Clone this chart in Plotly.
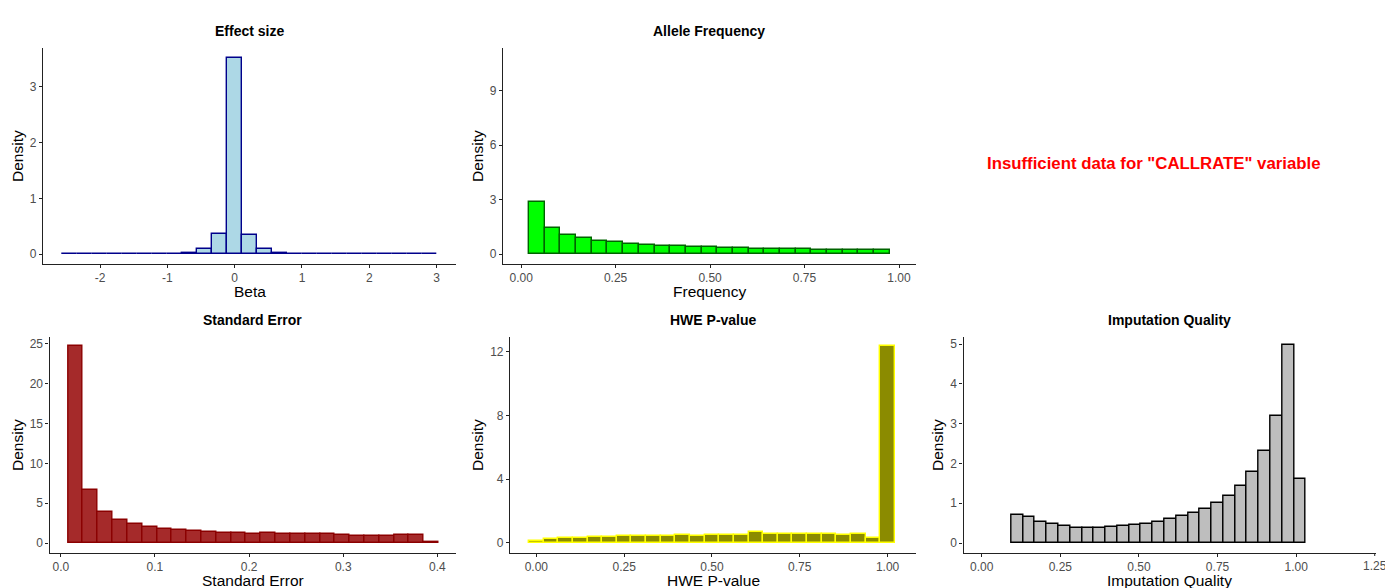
import plotly.graph_objects as go

W, H = 1385, 588

# ---------------- data ----------------
# Effect size (Beta): 25 bins
beta_start = -2.57
beta_width = 0.2233
beta_density = [0.002, 0.002, 0.002, 0.002, 0.002, 0.002, 0.003, 0.006, 0.025, 0.09,
                0.37, 3.52, 0.35, 0.09, 0.025, 0.006, 0.003, 0.002, 0.002, 0.002,
                0.002, 0.002, 0.002, 0.002, 0.002]

# Allele frequency: 23 bins
af_start = 0.021
af_width = 0.0415
af_density = [2.85, 1.43, 1.06, 0.88, 0.73, 0.66, 0.55, 0.51, 0.46, 0.42, 0.40, 0.37,
              0.35, 0.31, 0.29, 0.29, 0.27, 0.26, 0.24, 0.22, 0.20, 0.20, 0.20]

# Standard error: 25 bins
se_start = 0.0078
se_width = 0.01574
se_density = [24.75, 6.65, 3.9, 2.9, 2.38, 2.0, 1.75, 1.6, 1.46, 1.38, 1.3, 1.25, 1.2,
              1.25, 1.15, 1.1, 1.15, 1.1, 1.0, 0.95, 0.95, 0.95, 1.0, 1.0, 0.2]

# HWE p-value: 25 bins
hwe_start = -0.0208
hwe_width = 0.04167
hwe_density = [0.13, 0.27, 0.31, 0.33, 0.40, 0.40, 0.44, 0.44, 0.44, 0.46, 0.52, 0.46,
               0.52, 0.48, 0.52, 0.67, 0.54, 0.56, 0.56, 0.58, 0.54, 0.52, 0.54, 0.29, 12.38]

# Imputation quality: 25 bins
iq_start = 0.0944
iq_width = 0.03746
iq_density = [0.70, 0.65, 0.53, 0.47, 0.42, 0.39, 0.38, 0.38, 0.40, 0.43, 0.45, 0.49,
              0.54, 0.60, 0.68, 0.76, 0.86, 1.0, 1.18, 1.43, 1.78, 2.32, 3.20, 4.97, 1.60]

# tick labels
beta_ticks = [-2, -1, 0, 1, 2, 3]
beta_yticks = [0, 1, 2, 3]
af_ticks = [0.0, 0.25, 0.5, 0.75, 1.0]
af_ticklabels = ["0.00", "0.25", "0.50", "0.75", "1.00"]
af_yticks = [0, 3, 6, 9]
se_ticks = [0.0, 0.1, 0.2, 0.3, 0.4]
se_ticklabels = ["0.0", "0.1", "0.2", "0.3", "0.4"]
se_yticks = [0, 5, 10, 15, 20, 25]
hwe_ticks = [0.0, 0.25, 0.5, 0.75, 1.0]
hwe_ticklabels = ["0.00", "0.25", "0.50", "0.75", "1.00"]
hwe_yticks = [0, 4, 8, 12]
iq_ticks = [0.0, 0.25, 0.5, 0.75, 1.0, 1.25]
iq_ticklabels = ["0.00", "0.25", "0.50", "0.75", "1.00", "1.25"]
iq_yticks = [0, 1, 2, 3, 4, 5]

FONT = "Liberation Sans, Arial, sans-serif"
TICKFONT = dict(family=FONT, size=12, color="#4D4D4D")

fig = go.Figure()

panels = [
    ("x", beta_start, beta_width, beta_density, "#ADD8E6", "#00008B",
     (43, 456, 48, 264), 17, [-2.85, 3.29], [-0.176, 3.696], beta_ticks, [str(t) for t in beta_ticks],
     beta_yticks, "Effect size", "Beta"),
    ("x2", af_start, af_width, af_density, "#00FF00", "#006400",
     (503, 916, 48, 264), 477, [-0.048, 1.045], [-0.55, 11.34], af_ticks, af_ticklabels,
     af_yticks, "Allele Frequency", "Frequency"),
    ("x4", se_start, se_width, se_density, "#A52A2A", "#8B0000",
     (49.5, 456, 337, 553), 17, [-0.012, 0.4198], [-1.24, 25.85], se_ticks, se_ticklabels,
     se_yticks, "Standard Error", "Standard Error"),
    ("x5", hwe_start, hwe_width, hwe_density, "#8B8B00", "#FFFF00",
     (510, 916, 337, 553), 477, [-0.075, 1.081], [-0.63, 12.92], hwe_ticks, hwe_ticklabels,
     hwe_yticks, "HWE P-value", "HWE P-value"),
    ("x6", iq_start, iq_width, iq_density, "#BEBEBE", "#000000",
     (963.5, 1376, 337, 553), 937, [-0.058, 1.254], [-0.25, 5.18], iq_ticks, iq_ticklabels,
     iq_yticks, "Imputation Quality", "Imputation Quality"),
]

annotations = []
for (ax, start, width, dens, fill, line, box, dens_x, xr, yr, xt, xtl, yt, title, xtitle) in panels:
    n = ax[1:] if len(ax) > 1 else ""
    x0, x1, y0, y1 = box
    centers = [start + width * (i + 0.5) for i in range(len(dens))]
    fig.add_trace(go.Bar(
        x=centers, y=dens, width=[width] * len(dens),
        marker=dict(color=fill, line=dict(color=line, width=1.4)),
        xaxis="x" + n, yaxis="y" + n, showlegend=False, hoverinfo="x+y",
    ))
    common = dict(showline=True, linecolor="#222222", linewidth=1.1, ticks="outside",
                  ticklen=3, tickwidth=1, tickcolor="#222222", showgrid=False, zeroline=False,
                  tickfont=TICKFONT)
    fig.update_layout(**{
        "xaxis" + n: dict(domain=[x0 / W, x1 / W], anchor="y" + n, range=xr,
                          tickvals=xt, ticktext=xtl, **common),
        "yaxis" + n: dict(domain=[1 - y1 / H, 1 - y0 / H], anchor="x" + n, range=yr,
                          tickvals=yt, ticktext=[str(v) for v in yt], **common),
    })
    # tick labels that plotly would hide because they run off the page edge
    for v, lab in zip(xt, xtl):
        frac = (v - xr[0]) / (xr[1] - xr[0])
        px = x0 + frac * (x1 - x0)
        if px + 12 > W:
            fig.layout["xaxis" + n].tickvals = [t for t in xt if t != v]
            fig.layout["xaxis" + n].ticktext = [l for t, l in zip(xt, xtl) if t != v]
            annotations.append(dict(text=lab, x=v, y=0, xref="x" + n, yref="paper",
                                    yshift=(H - y1) - 4, showarrow=False,
                                    xanchor="center", yanchor="top", font=TICKFONT))
            fig.add_shape(type="line", x0=v, x1=v, xref="x" + n, yref="paper",
                          y0=1 - y1 / H, y1=1 - (y1 + 3) / H,
                          line=dict(color="#222222", width=1))
    cx = (x0 + x1) / 2
    annotations.append(dict(text="<b>%s</b>" % title, x=cx / W, y=1 - (y0 - 17) / H,
                            xref="paper", yref="paper", showarrow=False,
                            xanchor="center", yanchor="middle",
                            font=dict(family=FONT, size=14, color="black")))
    annotations.append(dict(text=xtitle, x=cx / W, y=1 - (y1 + 27) / H,
                            xref="paper", yref="paper", showarrow=False,
                            xanchor="center", yanchor="middle",
                            font=dict(family=FONT, size=15.5, color="black")))
    annotations.append(dict(text="Density", x=dens_x / W,
                            y=1 - ((y0 + y1) / 2) / H,
                            xref="paper", yref="paper", showarrow=False, textangle=-90,
                            xanchor="center", yanchor="middle",
                            font=dict(family=FONT, size=15.5, color="black")))

annotations.append(dict(text='<b>Insufficient data for "CALLRATE" variable</b>',
                        x=1154 / W, y=1 - 163 / H, xref="paper", yref="paper",
                        showarrow=False, xanchor="center", yanchor="middle",
                        font=dict(family=FONT, size=16.8, color="#FF0000")))

fig.update_layout(width=W, height=H, margin=dict(l=0, r=0, t=0, b=0),
                  paper_bgcolor="white", plot_bgcolor="white", bargap=0,
                  annotations=annotations, font=dict(family=FONT))

fig.write_html("out.html")
